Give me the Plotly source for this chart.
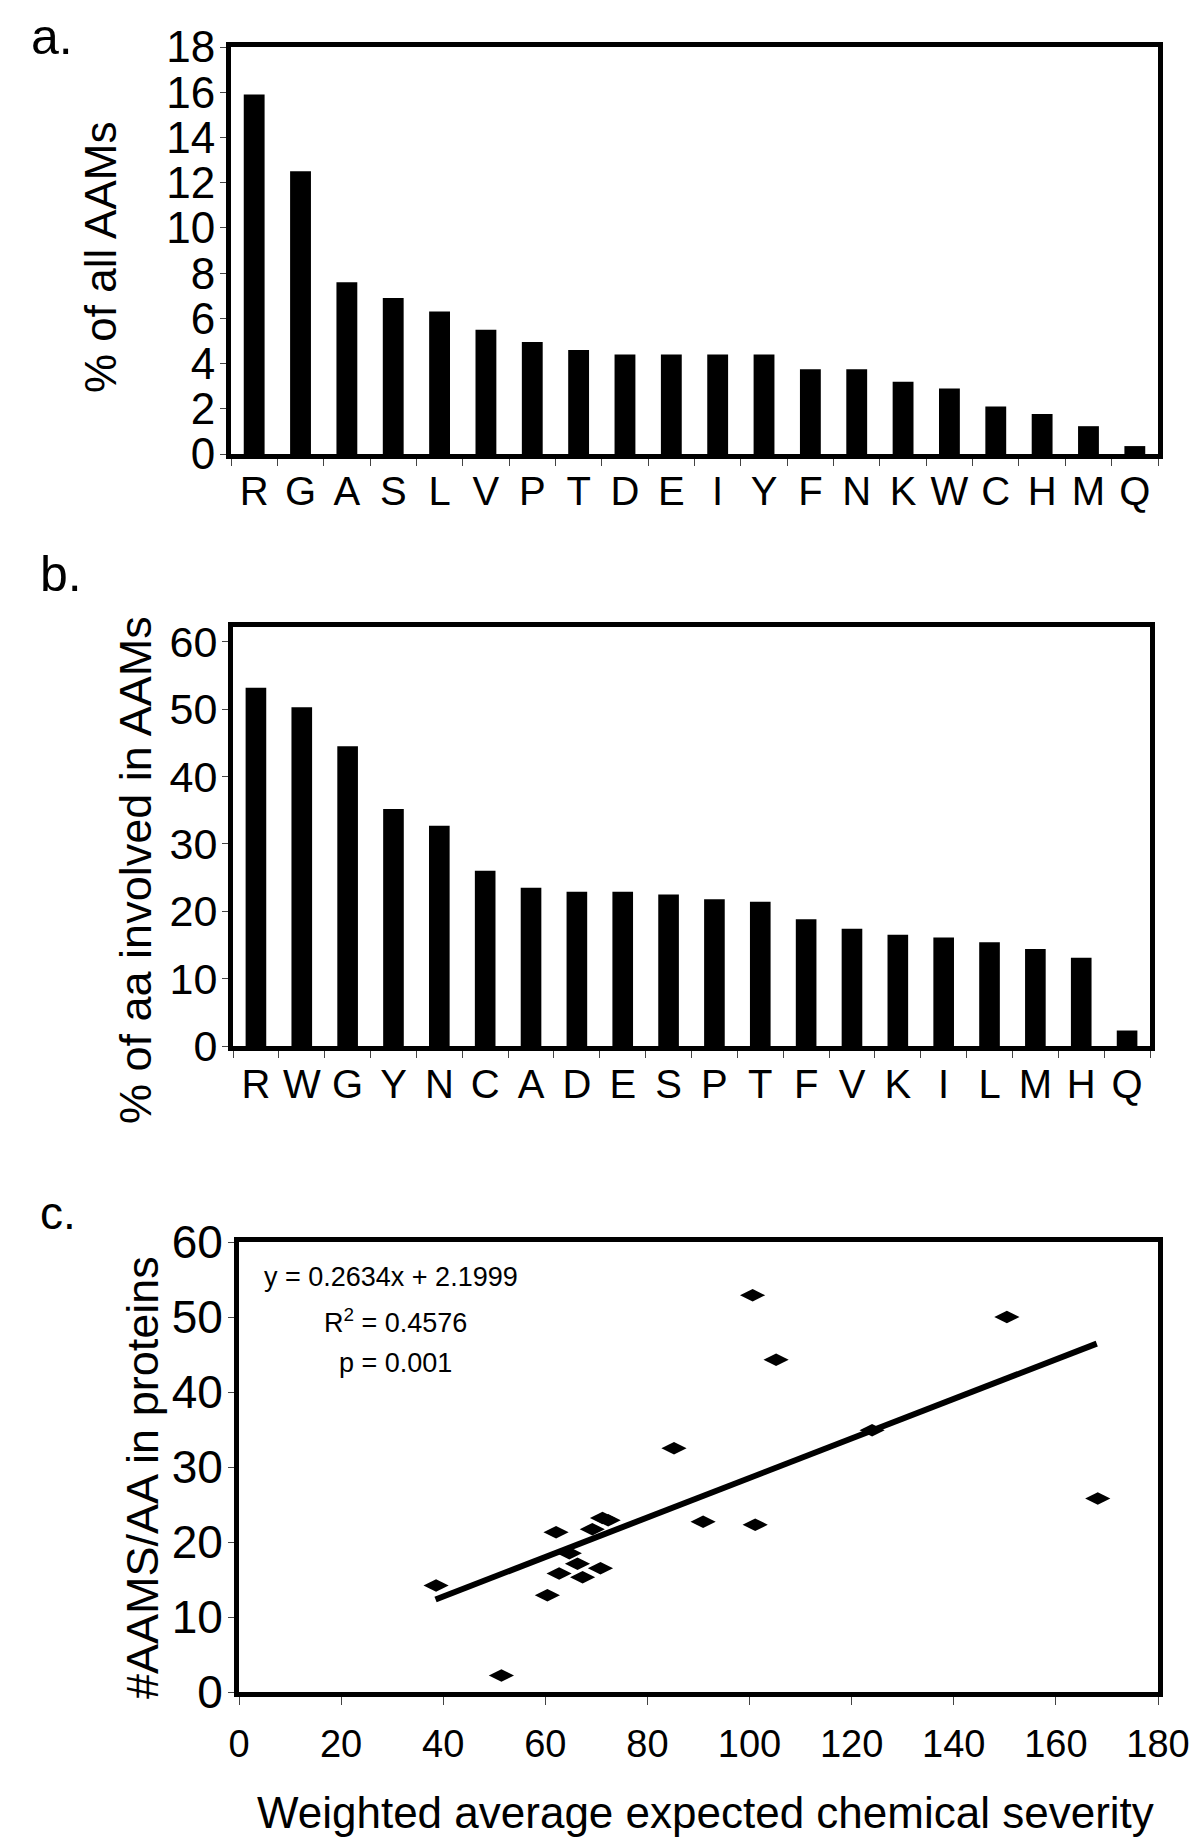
import plotly.graph_objects as go

FONT = "Liberation Sans, Arial, sans-serif"
W, H = 1200, 1846

# ---------- data ----------
a_letters = ["R", "G", "A", "S", "L", "V", "P", "T", "D", "E", "I", "Y", "F", "N", "K", "W", "C", "H", "M", "Q"]
a_values = [15.9, 12.5, 7.6, 6.9, 6.3, 5.5, 4.95, 4.6, 4.4, 4.4, 4.4, 4.4, 3.75, 3.75, 3.2, 2.9, 2.1, 1.77, 1.23, 0.35]

b_letters = ["R", "W", "G", "Y", "N", "C", "A", "D", "E", "S", "P", "T", "F", "V", "K", "I", "L", "M", "H", "Q"]
b_values = [53.2, 50.3, 44.5, 35.2, 32.7, 26.0, 23.5, 22.9, 22.9, 22.5, 21.8, 21.4, 18.8, 17.4, 16.5, 16.1, 15.4, 14.4, 13.1, 2.3]

c_letters = ["R", "W", "G", "Y", "N", "C", "A", "D", "E", "S", "P", "T", "F", "V", "K", "I", "L", "M", "H", "Q"]
c_severity = [100.6, 150.4, 105.2, 124.0, 85.2, 168.2, 71.2, 72.3, 90.9, 101.1, 69.2, 62.1, 64.7, 66.3, 70.8, 62.7, 67.3, 38.6, 60.4, 51.4]
c_aams = [52.9, 50.0, 44.3, 34.9, 32.5, 25.8, 23.2, 22.9, 22.7, 22.3, 21.7, 21.3, 18.5, 17.1, 16.5, 15.8, 15.3, 14.2, 12.9, 2.2]

fit_slope = 0.2634
fit_intercept = 2.1999
fit_x = [38.5, 168.0]
fit_y = [fit_slope * v + fit_intercept for v in fit_x]

# ---------- layout helpers ----------
def px_x(a, b):
    return [a / W, b / W]

def px_y(top, bottom):
    return [1 - bottom / H, 1 - top / H]

fig = go.Figure()

fig.add_trace(go.Bar(x=a_letters, y=a_values, marker=dict(color="black", line=dict(width=0)),
                     xaxis="x", yaxis="y", showlegend=False))
fig.add_trace(go.Bar(x=b_letters, y=b_values, marker=dict(color="black", line=dict(width=0)),
                     xaxis="x2", yaxis="y2", showlegend=False))
fig.add_trace(go.Scatter(x=c_severity, y=c_aams, mode="markers", text=c_letters,
                         marker=dict(symbol="diamond-wide", size=18, color="black"),
                         xaxis="x3", yaxis="y3", showlegend=False))
fig.add_trace(go.Scatter(x=fit_x, y=fit_y, mode="lines", line=dict(color="black", width=6),
                         xaxis="x3", yaxis="y3", showlegend=False))

box = dict(showline=True, linewidth=5, linecolor="black", mirror=True, showgrid=False,
           zeroline=False, automargin=False)

cat_x = dict(box, type="category", tickmode="linear", tick0=0, dtick=1, tickangle=0,
             ticks="outside", tickson="boundaries", ticklen=7, tickwidth=1,
             tickcolor="#444", range=[-0.5, 19.5], tickfont=dict(family=FONT, size=40, color="black"))
num_y = dict(box, ticks="outside", ticklen=6, tickwidth=1, tickcolor="#444", ticklabelstandoff=-4)

fig.update_layout(
    width=W, height=H,
    margin=dict(l=0, r=0, t=0, b=0, autoexpand=False),
    paper_bgcolor="white", plot_bgcolor="white",
    font=dict(family=FONT, color="black"),
    bargap=0.55,
    xaxis=dict(cat_x, domain=px_x(223, 1150), anchor="y", ticklabelstandoff=-2),
    yaxis=dict(num_y, domain=px_y(39, 446), anchor="x", range=[0, 18], dtick=2,
               tickfont=dict(family=FONT, size=44, color="black")),
    xaxis2=dict(cat_x, domain=px_x(225, 1142), anchor="y2", ticklabelstandoff=-1),
    yaxis2=dict(num_y, domain=px_y(619, 1038), anchor="x2", range=[0, 62.2], dtick=10,
                tickfont=dict(family=FONT, size=43, color="black")),
    xaxis3=dict(box, domain=px_x(231, 1150), anchor="y3", range=[0, 180], dtick=20,
                ticks="outside", ticklen=8, tickwidth=1, tickcolor="#444", ticklabelstandoff=6,
                tickfont=dict(family=FONT, size=38, color="black")),
    yaxis3=dict(num_y, domain=px_y(1234, 1684), anchor="x3", range=[0, 60], dtick=10,
                tickfont=dict(family=FONT, size=46, color="black")),
)

ann = []
def text(x, y, s, size, angle=0, xanchor="center", yanchor="middle"):
    ann.append(dict(x=x / W, y=1 - y / H, xref="paper", yref="paper", text=s, showarrow=False,
                    textangle=angle, xanchor=xanchor, yanchor=yanchor,
                    font=dict(family=FONT, size=size, color="black")))

text(21, 29, "a.", 50, xanchor="left")
text(30, 566, "b.", 50, xanchor="left")
text(30, 1205, "c.", 46, xanchor="left")

text(92, 250, "% of all AAMs", 44, angle=-90)
text(127, 862, "% of aa involved in AAMs", 45, angle=-90)
text(134, 1470, "#AAMS/AA in proteins", 45, angle=-90)
text(697, 1804, "Weighted average expected chemical severity", 44)

text(383, 1269, "y = 0.2634x + 2.1999", 27)
text(388, 1313, "R<sup>2</sup> = 0.4576", 27)
text(388, 1355, "p = 0.001", 27)

fig.update_layout(annotations=ann)
fig.write_html("out.html")
